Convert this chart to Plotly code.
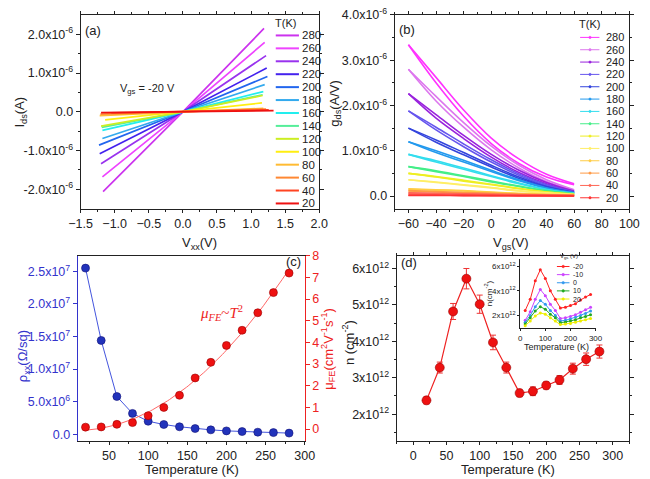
import plotly.graph_objects as go
import numpy as np

W, H = 650, 479
def fx(p): return p / W
def fy(p): return 1 - p / H

FONT = "Arial, Liberation Sans, sans-serif"
BLK = '#222222'
TS = 12.5

# ---------------- Panel (a) data ----------------
temps = [280, 260, 240, 220, 200, 180, 160, 140, 120, 100, 80, 60, 40, 20]
colors_a = ['#cc33ee', '#ee44ff', '#9933ee', '#4422ee', '#2266ee', '#33aaee', '#22eeee',
            '#55ee99', '#ccee22', '#ffee11', '#ffbb33', '#ff8833', '#ff4422', '#ee1111']
vxx_neg = [-1.17, -1.18, -1.20, -1.22, -1.23, -1.18, -1.18, -1.19, -1.20, -1.14, -1.22, -1.21, -1.05, -1.20]
ids_neg = [-2.06e-6, -1.68e-6, -1.34e-6, -1.08e-6, -0.86e-6, -0.69e-6, -0.48e-6, -0.40e-6, -0.37e-6,
           -0.21e-6, -0.10e-6, -0.06e-6, -0.03e-6, -0.02e-6]
vxx_pos = [1.19, 1.20, 1.22, 1.23, 1.24, 1.20, 1.18, 1.17, 1.17, 1.16, 1.18, 1.22, 1.26, 1.33]
ids_pos = [2.15e-6, 1.79e-6, 1.45e-6, 1.13e-6, 0.91e-6, 0.70e-6, 0.52e-6, 0.44e-6, 0.42e-6,
           0.23e-6, 0.09e-6, 0.07e-6, 0.05e-6, 0.03e-6]

# ---------------- Panel (b) data ----------------
colors_b = ['#ff33ff', '#dd77ee', '#9922dd', '#6655ee', '#3344dd', '#2299ee', '#33ddee',
            '#44ee88', '#eeee22', '#ffee66', '#ffcc44', '#ff9944', '#ff6655', '#ff3333']
vgs = [-60, -40, -20, 0, 20, 40, 60]
gds_fwd = [
    [3.34, 2.62, 1.90, 1.28, 0.82, 0.48, 0.27],
    [2.80, 2.20, 1.62, 1.10, 0.68, 0.36, 0.14],
    [2.26, 1.80, 1.34, 0.92, 0.57, 0.30, 0.11],
    [1.88, 1.52, 1.15, 0.80, 0.49, 0.25, 0.09],
    [1.50, 1.24, 0.96, 0.68, 0.42, 0.21, 0.08],
    [1.20, 1.00, 0.79, 0.57, 0.36, 0.18, 0.07],
    [0.92, 0.78, 0.62, 0.45, 0.29, 0.15, 0.06],
    [0.65, 0.56, 0.45, 0.33, 0.22, 0.12, 0.05],
    [0.50, 0.43, 0.35, 0.26, 0.17, 0.09, 0.04],
    [0.36, 0.31, 0.25, 0.19, 0.12, 0.07, 0.03],
    [0.16, 0.14, 0.12, 0.09, 0.06, 0.04, 0.02],
    [0.12, 0.10, 0.08, 0.06, 0.04, 0.03, 0.02],
    [0.07, 0.06, 0.05, 0.04, 0.03, 0.02, 0.01],
    [0.02, 0.02, 0.015, 0.01, 0.01, 0.01, 0.005],
]
gds_bwd = [
    [3.34, 2.50, 1.76, 1.16, 0.72, 0.42, 0.25],
    [2.80, 2.10, 1.52, 1.02, 0.62, 0.32, 0.13],
    [2.26, 1.72, 1.27, 0.86, 0.52, 0.27, 0.10],
    [1.88, 1.46, 1.09, 0.75, 0.46, 0.23, 0.09],
    [1.50, 1.19, 0.91, 0.64, 0.39, 0.20, 0.08],
    [1.20, 0.96, 0.75, 0.54, 0.34, 0.17, 0.07],
    [0.92, 0.75, 0.59, 0.43, 0.27, 0.14, 0.06],
    [0.65, 0.54, 0.43, 0.31, 0.21, 0.11, 0.05],
    [0.50, 0.42, 0.33, 0.25, 0.16, 0.09, 0.04],
    [0.36, 0.30, 0.24, 0.18, 0.11, 0.06, 0.03],
    [0.15, 0.13, 0.11, 0.08, 0.05, 0.03, 0.02],
    [0.11, 0.09, 0.07, 0.05, 0.04, 0.02, 0.015],
    [0.06, 0.05, 0.04, 0.03, 0.02, 0.015, 0.01],
    [0.015, 0.015, 0.01, 0.01, 0.005, 0.005, 0.005],
]

# ---------------- Panel (c) data ----------------
temp_c = [20, 40, 60, 80, 100, 120, 140, 160, 180, 200, 220, 240, 260, 280]
rho_xx = [2.55e7, 1.44e7, 0.58e7, 0.32e7, 0.20e7, 0.15e7, 0.115e7, 0.088e7, 0.068e7,
          0.052e7, 0.042e7, 0.032e7, 0.026e7, 0.018e7]
mu_fe = [0.09, 0.10, 0.22, 0.30, 0.62, 1.00, 1.56, 2.36, 3.08, 3.86, 4.56, 5.37, 6.30, 7.20]

# ---------------- Panel (d) data ----------------
n_main = [2.38e12, 3.28e12, 4.82e12, 5.72e12, 5.02e12, 3.97e12, 3.28e12, 2.58e12, 2.63e12,
          2.79e12, 2.94e12, 3.25e12, 3.51e12, 3.72e12]
n_err = [0.10e12, 0.15e12, 0.22e12, 0.28e12, 0.25e12, 0.20e12, 0.15e12, 0.10e12, 0.12e12,
         0.10e12, 0.12e12, 0.15e12, 0.17e12, 0.18e12]
inset_labels = ['-20', '-10', '0', '10', '20']
inset_colors = ['#ff2222', '#cc44ff', '#3399ee', '#22aa22', '#eeee00']
inset_n = [
    [2.40, 3.30, 4.80, 5.70, 5.00, 4.00, 3.30, 2.60, 2.65, 2.80, 2.95, 3.25, 3.50, 3.70],
    [1.60, 2.30, 3.30, 4.10, 3.60, 2.90, 2.40, 1.75, 1.80, 1.90, 2.05, 2.25, 2.45, 2.65],
    [1.45, 2.00, 2.70, 3.20, 2.90, 2.40, 2.00, 1.55, 1.60, 1.70, 1.85, 2.00, 2.15, 2.35],
    [1.30, 1.80, 2.35, 2.70, 2.50, 2.10, 1.80, 1.40, 1.45, 1.55, 1.65, 1.80, 1.90, 2.05],
    [1.15, 1.55, 1.95, 2.20, 2.10, 1.80, 1.55, 1.25, 1.30, 1.35, 1.45, 1.55, 1.65, 1.75],
]

fig = go.Figure()

# (a) traces
for i, T in enumerate(temps):
    fig.add_trace(go.Scatter(x=[vxx_neg[i], 0, vxx_pos[i]], y=[ids_neg[i], 0, ids_pos[i]],
                             mode='lines', line=dict(color=colors_a[i], width=1.7),
                             xaxis='x', yaxis='y', showlegend=False))
# (b) traces
for i, T in enumerate(temps):
    for br in (gds_fwd[i], gds_bwd[i]):
        fig.add_trace(go.Scatter(x=vgs, y=[v * 1e-6 for v in br], mode='lines',
                                 line=dict(color=colors_b[i], width=1.6, shape='spline'),
                                 xaxis='x2', yaxis='y2', showlegend=False))
# (c) traces
fig.add_trace(go.Scatter(x=temp_c, y=rho_xx, mode='lines+markers',
                         line=dict(color='#4455dd', width=1),
                         marker=dict(size=8, color='#2233bb', line=dict(color='#111177', width=0.6)),
                         xaxis='x3', yaxis='y3', showlegend=False))
coef = np.polyfit(temp_c, mu_fe, 2)
fit_T = np.linspace(min(temp_c), max(temp_c), 120)
fig.add_trace(go.Scatter(x=fit_T, y=np.polyval(coef, fit_T), mode='lines',
                         line=dict(color='#ff6666', width=1),
                         xaxis='x3', yaxis='y6', showlegend=False))
fig.add_trace(go.Scatter(x=temp_c, y=mu_fe, mode='markers',
                         marker=dict(size=8, color='#ee1111', line=dict(color='#990000', width=0.6)),
                         xaxis='x3', yaxis='y6', showlegend=False))
# (d) traces
fig.add_trace(go.Scatter(x=temp_c, y=n_main, mode='lines+markers',
                         line=dict(color='#ee2222', width=1.2),
                         marker=dict(size=9, color='#ee1111', line=dict(color='#990000', width=0.6)),
                         error_y=dict(type='data', array=n_err, color='#ee3333', thickness=1, width=3),
                         xaxis='x4', yaxis='y4', showlegend=False))
for k in range(5):
    fig.add_trace(go.Scatter(x=temp_c, y=[v * 1e12 for v in inset_n[k]], mode='lines+markers',
                             line=dict(color=inset_colors[k], width=1),
                             marker=dict(size=3, color=inset_colors[k]),
                             xaxis='x5', yaxis='y5', showlegend=False))

def ax(**kw):
    base = dict(showline=True, linecolor=BLK, linewidth=1, ticks='outside', ticklen=4,
                tickcolor=BLK, showgrid=False, zeroline=False,
                tickfont=dict(family=FONT, size=TS, color=BLK))
    base.update(kw)
    return base

layout = dict(
    width=W, height=H, margin=dict(l=0, r=0, t=0, b=0), autosize=False,
    paper_bgcolor='white', plot_bgcolor='white', showlegend=False,
    xaxis=ax(domain=[fx(71), fx(318)], range=[-1.5, 2.0], anchor='y', mirror='ticks', ticklen=3,
             tickmode='linear', tick0=-1.5, dtick=0.5, tickformat='.1f',
             minor=dict(ticks='outside', ticklen=2, dtick=0.25, tickcolor=BLK)),
    yaxis=ax(domain=[fy(204), fy(6)], range=[-2.5e-6, 2.5e-6], anchor='x', mirror='ticks',
             tickmode='array', tickvals=[-2e-6, -1e-6, 0, 1e-6, 2e-6],
             ticktext=['-2.0x10<sup>-6</sup>', '-1.0x10<sup>-6</sup>', '0.0',
                       '1.0x10<sup>-6</sup>', '2.0x10<sup>-6</sup>'],
             minor=dict(ticks='outside', ticklen=2, tickmode='array',
                        tickvals=[-1.5e-6, -0.5e-6, 0.5e-6, 1.5e-6], tickcolor=BLK)),
    xaxis2=ax(domain=[fx(396), fx(639)], range=[-70, 100], anchor='y2', mirror='ticks', ticklen=3,
              tickmode='linear', tick0=-60, dtick=20,
              minor=dict(ticks='outside', ticklen=2, dtick=10, tickcolor=BLK)),
    yaxis2=ax(domain=[fy(204), fy(6)], range=[-0.28e-6, 4.0e-6], anchor='x2', mirror='ticks',
              tickmode='array', tickvals=[0, 1e-6, 2e-6, 3e-6, 4e-6],
              ticktext=['0.0', '1.0x10<sup>-6</sup>', '2.0x10<sup>-6</sup>',
                        '3.0x10<sup>-6</sup>', '4.0x10<sup>-6</sup>'],
              minor=dict(ticks='outside', ticklen=2, tickmode='array',
                         tickvals=[0.5e-6, 1.5e-6, 2.5e-6, 3.5e-6], tickcolor=BLK)),
    xaxis3=ax(domain=[fx(68), fx(303)], range=[10, 300], anchor='y3', mirror=True, ticklen=3,
              tickmode='linear', tick0=50, dtick=50,
              minor=dict(ticks='outside', ticklen=2, dtick=25, tick0=0, tickcolor=BLK)),
    yaxis3=ax(domain=[fy(441), fy(252)], range=[-0.1e7, 2.74e7], anchor='x3',
              linecolor='#3333cc', tickcolor='#3333cc',
              tickfont=dict(family=FONT, size=TS, color='#3333cc'),
              tickmode='array', tickvals=[0, 5e6, 1e7, 1.5e7, 2e7, 2.5e7],
              ticktext=['0.0', '5.0x10<sup>6</sup>', '1.0x10<sup>7</sup>', '1.5x10<sup>7</sup>',
                        '2.0x10<sup>7</sup>', '2.5x10<sup>7</sup>']),
    yaxis6=ax(range=[-0.54, 8.0], anchor='x3', overlaying='y3', side='right',
              linecolor='#ee2222', tickcolor='#ee2222',
              tickfont=dict(family=FONT, size=TS, color='#ee2222'),
              tickmode='linear', tick0=0, dtick=1),
    xaxis4=ax(domain=[fx(398), fx(639)], range=[-25, 325], anchor='y4', mirror='ticks', ticklen=3,
              tickmode='linear', tick0=0, dtick=50,
              minor=dict(ticks='outside', ticklen=2, dtick=25, tick0=0, tickcolor=BLK)),
    yaxis4=ax(domain=[fy(441), fy(252)], range=[1.27e12, 6.35e12], anchor='x4', mirror='ticks',
              tickmode='array', tickvals=[2e12, 3e12, 4e12, 5e12, 6e12],
              ticktext=['%dx10<sup>12</sup>' % v for v in [2, 3, 4, 5, 6]],
              minor=dict(ticks='outside', ticklen=2, tickmode='array',
                         tickvals=[1.5e12, 2.5e12, 3.5e12, 4.5e12, 5.5e12], tickcolor=BLK)),
    xaxis5=ax(domain=[fx(526), fx(604)], range=[0, 300], anchor='y5', ticklen=2,
              tickmode='linear', tick0=0, dtick=100,
              tickfont=dict(family=FONT, size=8, color=BLK)),
    yaxis5=ax(domain=[fy(326), fy(255)], range=[0.96e12, 6.6e12], anchor='x5', ticklen=2,
              tickmode='array', tickvals=[2e12, 4e12, 6e12],
              ticktext=['%dx10<sup>12</sup>' % v for v in [2, 4, 6]],
              tickfont=dict(family=FONT, size=8, color=BLK)),
)
fig.update_layout(**layout)

ann = []
shapes = []
def txt(x, y, s, size=12, color=BLK, angle=0, xanchor='center', family=FONT):
    ann.append(dict(x=fx(x), y=fy(y), xref='paper', yref='paper', text=s, showarrow=False,
                    xanchor=xanchor, yanchor='middle', textangle=angle,
                    font=dict(family=family, size=size, color=color)))

# panel labels
txt(73, 22, '(a)', 13, xanchor='left')
txt(398, 21, '(b)', 13, xanchor='left')
txt(282, 258, '(c)', 13, xanchor='left')
txt(401, 259, '(d)', 13, xanchor='left')
txt(110, 82, 'V<sub>gs</sub> = -20 V', 11, xanchor='left')
# axis titles
txt(9, 105, 'I<sub>ds</sub>(A)', 13, angle=-90)
txt(194, 239, 'V<sub>xx</sub>(V)', 13)
txt(335, 97, 'g<sub>ds</sub>(A/V)', 13, angle=-90)
txt(516, 239, 'V<sub>gs</sub>(V)', 13)
txt(12, 355, 'ρ<sub>xx</sub>(Ω/sq)', 13, color='#3333cc', angle=-90)
txt(327, 347, 'μ<sub>FE</sub>(cm<sup>2</sup>V<sup>-1</sup>s<sup>-1</sup>)', 13, color='#ee2222', angle=-90)
txt(186, 470, 'Temperature (K)', 13)
txt(348, 341, 'n (cm<sup>-2</sup>)', 13, angle=-90)
txt(513, 470, 'Temperature (K)', 13)
txt(217, 310, '<i>μ<sub>FE</sub></i>~<i>T</i><sup>2</sup>', 15, color='#ee2222',
    family='Liberation Serif, DejaVu Serif, serif')
# inset titles
txt(564, 345, 'Temperature (K)', 9)
txt(493, 290, 'n(cm<sup>-2</sup>)', 8, angle=-90)

# legend (a)
txt(283, 14, 'T(K)', 11)
for i, T in enumerate(temps):
    yy = 27 + i * 13.2
    shapes.append(dict(type='line', xref='paper', yref='paper', x0=fx(273), x1=fx(297),
                       y0=fy(yy), y1=fy(yy), line=dict(color=colors_a[i], width=2)))
    txt(298, yy, str(T), 11.5, xanchor='left')
# legend (b)
txt(598, 15, 'T(K)', 11)
for i, T in enumerate(temps):
    yy = 29 + i * 12.6
    shapes.append(dict(type='line', xref='paper', yref='paper', x0=fx(588), x1=fx(608),
                       y0=fy(yy), y1=fy(yy), line=dict(color=colors_b[i], width=1)))
    shapes.append(dict(type='circle', xref='paper', yref='paper', x0=fx(597), x1=fx(599.5),
                       y0=fy(yy + 1.2), y1=fy(yy - 1.2), line=dict(color=colors_b[i], width=0.5),
                       fillcolor=colors_b[i]))
    txt(613, yy, str(T), 11, xanchor='left')
# inset legend
txt(577, 253, 'V<sub>gs</sub> (V)', 6)
for k, lab in enumerate(inset_labels):
    yy = 263 + k * 8.3
    shapes.append(dict(type='line', xref='paper', yref='paper', x0=fx(564), x1=fx(577),
                       y0=fy(yy), y1=fy(yy), line=dict(color=inset_colors[k], width=1)))
    shapes.append(dict(type='circle', xref='paper', yref='paper', x0=fx(569.2), x1=fx(571.8),
                       y0=fy(yy + 1.3), y1=fy(yy - 1.3), line=dict(color=inset_colors[k], width=0.5),
                       fillcolor=inset_colors[k]))
    txt(579, yy, lab, 7, xanchor='left')

fig.update_layout(annotations=ann, shapes=shapes)
fig.write_html("out.html", config={'displayModeBar': False},
               post_script="document.body.style.margin='0px';")
